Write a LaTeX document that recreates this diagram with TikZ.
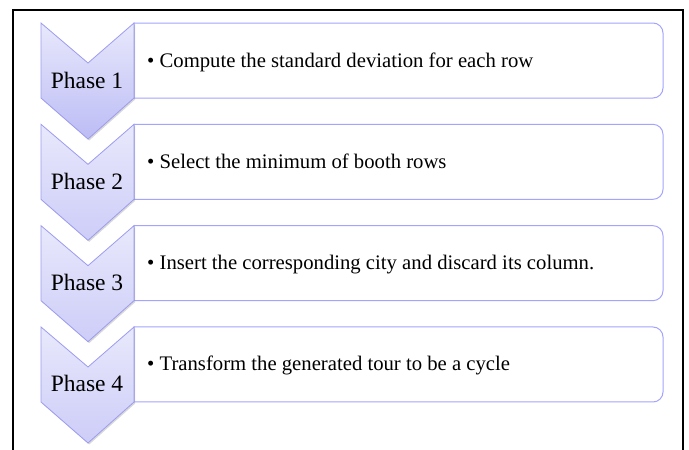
\documentclass[tikz,border=0pt]{standalone}
\usepackage{fontspec}
\setmainfont{Liberation Serif}
\usetikzlibrary{shadows}
\definecolor{chevline}{HTML}{9C9CF0}
\definecolor{chevtop}{HTML}{E8E8FC}
\definecolor{chevbot}{HTML}{CDCDF8}
\definecolor{chevbotdark}{HTML}{BCBCF5}
\definecolor{boxline}{HTML}{A4A4FF}
\tikzset{
  chevron/.style={draw=chevline, line width=0.8pt, top color=chevtop, bottom color=chevbot,
    drop shadow={shadow xshift=1.2pt, shadow yshift=-1.5pt, opacity=0.25, fill=black!60}},
  stepbox/.style={draw=boxline, line width=1pt, fill=white},
  phaselabel/.style={font=\fontsize{23.5}{25}\selectfont, anchor=base, inner sep=0pt},
  itemlabel/.style={font=\fontsize{20.7}{23}\selectfont, anchor=base west, inner sep=0pt},
}
\begin{document}
\begin{tikzpicture}[x=1pt, y=-1pt]
\useasboundingbox (0,0) rectangle (689,450);
\fill[white] (0,0) rectangle (689,450);
% outer frame, open at the bottom
\draw[line width=2pt] (12.5,452) -- (12.5,10) -- (683,10) -- (683,452);

\foreach \i/\lab/\txt in {
  0/Phase 1/Compute the standard deviation for each row,
  1/Phase 2/Select the minimum of booth rows,
  2/Phase 3/Insert the corresponding city and discard its column.,
  3/Phase 4/Transform the generated tour to be a cycle}{
  \pgfmathsetmacro{\yt}{23+101.33*\i}
  % box to the right of the chevron, rounded on its right side only
  \draw[stepbox] (134,\yt) -- (653,\yt) arc[start angle=-90, end angle=0, radius=10]
     -- (663,\yt+65) arc[start angle=0, end angle=90, radius=10] -- (134,\yt+75) -- cycle;
  % chevron pointing down
  \ifnum\i=0
    \path[chevron, bottom color=chevbotdark] (41,\yt) -- (88,\yt+40) -- (134,\yt) -- (134,\yt+75)
      -- (88,\yt+116) -- (41,\yt+75) -- cycle;
  \else
    \path[chevron] (41,\yt) -- (88,\yt+40) -- (134,\yt) -- (134,\yt+75)
      -- (88,\yt+116) -- (41,\yt+75) -- cycle;
  \fi
  \node[phaselabel] (phase\i) at (87,\yt+65) {\lab};
  \node[itemlabel] (item\i) at (147,\yt+44) {\textbullet\ \txt};
}
\end{tikzpicture}
\end{document}
